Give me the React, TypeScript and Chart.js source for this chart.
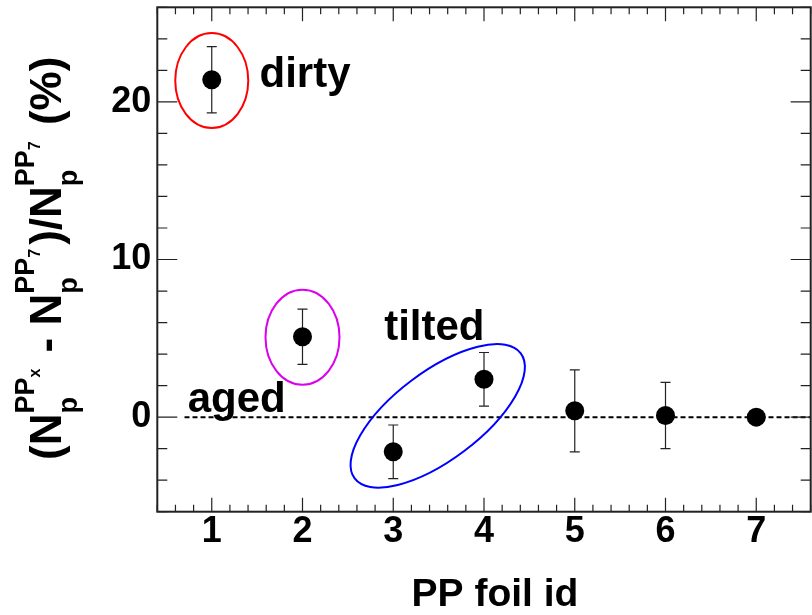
import React, { useEffect, useRef } from 'react';
import { Chart, registerables } from 'chart.js';

Chart.register(...registerables);

// Relative proton yield of each PP foil with respect to foil 7, in percent
const foilIds = [1, 2, 3, 4, 5, 6, 7];
const deviation = [21.4, 5.1, -2.2, 2.4, 0.4, 0.1, 0.0];
const deviationErr = [2.1, 1.75, 1.7, 1.7, 2.6, 2.1, 0];

// Axis tick labels
const xTickValues = [1, 2, 3, 4, 5, 6, 7];
const yTickValues = [0, 10, 20];

// Dotted reference level (zero deviation)
const refLineX = [0.7, 7.6];
const refLineY = [0, 0];

// Circled groups of foils: centre in data units, half-axes in pixels, tilt in degrees
const circledGroups = [
  { x: 1.0, y: 21.35, rx: 36.5, ry: 47.5, tilt: 0, color: '#ff0000' },
  { x: 2.0, y: 5.07, rx: 37, ry: 47.5, tilt: 0, color: '#dd00ee' },
  { x: 3.49, y: 0.08, rx: 104, ry: 44, tilt: -37, color: '#0000ff' },
];

// Group captions, anchored at their left baseline in data units
const groupCaptions = [
  { text: 'dirty', x: 1.526, y: 20.93 },
  { text: 'tilted', x: 2.9, y: 4.91 },
  { text: 'aged', x: 0.735, y: 0.34 },
];

const FONT = '"Liberation Sans", Arial, Helvetica, sans-serif';

const errorBarPlugin = {
  id: 'errorBars',
  beforeDatasetsDraw(chart: any) {
    const { ctx, scales } = chart;
    const xs = scales.x;
    const ys = scales.y;
    ctx.save();
    ctx.strokeStyle = '#222';
    ctx.lineWidth = 1.2;
    foilIds.forEach((id, i) => {
      const e = deviationErr[i];
      if (!e) return;
      const px = xs.getPixelForValue(id);
      const hi = ys.getPixelForValue(deviation[i] + e);
      const lo = ys.getPixelForValue(deviation[i] - e);
      ctx.beginPath();
      ctx.moveTo(px, hi);
      ctx.lineTo(px, lo);
      ctx.moveTo(px - 5, hi);
      ctx.lineTo(px + 5, hi);
      ctx.moveTo(px - 5, lo);
      ctx.lineTo(px + 5, lo);
      ctx.stroke();
    });
    ctx.restore();
  },
};

const annotationPlugin = {
  id: 'groupAnnotations',
  afterDatasetsDraw(chart: any) {
    const { ctx, scales } = chart;
    const xs = scales.x;
    const ys = scales.y;
    ctx.save();
    circledGroups.forEach((g) => {
      ctx.beginPath();
      ctx.ellipse(
        xs.getPixelForValue(g.x),
        ys.getPixelForValue(g.y),
        g.rx,
        g.ry,
        (g.tilt * Math.PI) / 180,
        0,
        Math.PI * 2
      );
      ctx.strokeStyle = g.color;
      ctx.lineWidth = 2;
      ctx.stroke();
    });
    ctx.fillStyle = '#000';
    ctx.font = `bold 42px ${FONT}`;
    ctx.textAlign = 'left';
    ctx.textBaseline = 'alphabetic';
    groupCaptions.forEach((c) => {
      ctx.fillText(c.text, xs.getPixelForValue(c.x), ys.getPixelForValue(c.y));
    });
    ctx.restore();
  },
};

const framePlugin = {
  id: 'frameAndTitles',
  afterDraw(chart: any) {
    const { ctx, scales, chartArea } = chart;
    const xs = scales.x;
    const ys = scales.y;
    const { left, right, top, bottom } = chartArea;
    ctx.save();
    // tick marks on all four sides, pointing inwards
    ctx.strokeStyle = '#222';
    ctx.lineWidth = 1.2;
    ctx.beginPath();
    for (let i = 0; i <= 36; i++) {
      const v = xs.min + i * 0.2;
      const major = Math.abs(v - Math.round(v)) < 1e-6;
      const len = major ? 14 : 7;
      const px = xs.getPixelForValue(v);
      ctx.moveTo(px, bottom);
      ctx.lineTo(px, bottom - len);
      ctx.moveTo(px, top);
      ctx.lineTo(px, top + len);
    }
    for (let v = ys.min; v <= ys.max + 1e-6; v += 2) {
      const major = Math.abs(v % 10) < 1e-6;
      const len = major ? 20 : 10;
      const py = ys.getPixelForValue(v);
      ctx.moveTo(left, py);
      ctx.lineTo(left + len, py);
      ctx.moveTo(right, py);
      ctx.lineTo(right - len, py);
    }
    ctx.stroke();
    // frame
    ctx.strokeStyle = '#222';
    ctx.lineWidth = 2;
    ctx.strokeRect(left, top, right - left, bottom - top);

    ctx.fillStyle = '#000';
    // x-axis title
    ctx.font = `bold 39px ${FONT}`;
    ctx.textAlign = 'center';
    ctx.textBaseline = 'alphabetic';
    ctx.fillText('PP foil id', 495, 606);

    // y-axis title, rotated, with super- and subscripts
    const main = `bold 44px ${FONT}`;
    const supF = `bold 27px ${FONT}`;
    const tinyF = `bold 16px ${FONT}`;
    ctx.translate(60.5, 460);
    ctx.rotate(-Math.PI / 2);
    ctx.textAlign = 'left';
    let u = 0;
    const put = (t: string) => {
      ctx.font = main;
      ctx.fillText(t, u, 0);
      u += ctx.measureText(t).width;
    };
    const stack = (idx: string) => {
      ctx.font = supF;
      const wPP = ctx.measureText('PP').width;
      ctx.fillText('PP', u, -27);
      ctx.font = tinyF;
      const wIdx = ctx.measureText(idx).width;
      ctx.fillText(idx, u + wPP, -20.5);
      ctx.font = supF;
      const wp = ctx.measureText('p').width;
      ctx.fillText('p', u, 16);
      u += Math.max(wPP + wIdx, wp) + 4;
    };
    put('(');
    put('N');
    stack('x');
    put(' - ');
    put('N');
    stack('7');
    put(')/');
    put('N');
    stack('7');
    put(' (%)');
    ctx.restore();
  },
};

const zeroScalePadding = (s: any) => {
  s.paddingTop = 0;
  s.paddingBottom = 0;
  s.paddingLeft = 0;
  s.paddingRight = 0;
};

export default function App() {
  const canvasRef = useRef<HTMLCanvasElement | null>(null);

  useEffect(() => {
    if (!canvasRef.current) return;
    const tickFont = { family: FONT, size: 36, weight: 'bold' as const, lineHeight: 1 };
    const chart = new Chart(canvasRef.current, {
      type: 'scatter',
      data: {
        datasets: [
          {
            type: 'scatter',
            data: foilIds.map((x, i) => ({ x, y: deviation[i] })),
            backgroundColor: '#000',
            borderColor: '#000',
            borderWidth: 0,
            pointRadius: 9.5,
            pointHoverRadius: 9.5,
          },
          {
            type: 'line',
            data: refLineX.map((x, i) => ({ x, y: refLineY[i] })),
            borderColor: '#000',
            borderWidth: 2,
            borderDash: [5, 3],
            pointRadius: 0,
            fill: false,
          },
        ],
      } as any,
      options: {
        animation: false,
        responsive: false,
        devicePixelRatio: 1,
        layout: { autoPadding: false, padding: { left: 0, right: 1.3, top: 7.3, bottom: 0 } },
        plugins: { legend: { display: false }, tooltip: { enabled: false } },
        scales: {
          x: {
            type: 'linear',
            min: 0.4,
            max: 7.6,
            afterBuildTicks: (s: any) => {
              s.ticks = xTickValues.map((v) => ({ value: v }));
            },
            afterFit: (s: any) => {
              s.height = 103.3;
              zeroScalePadding(s);
            },
            grid: { display: false, drawTicks: false, tickLength: 0 },
            border: { display: false },
            ticks: {
              font: tickFont,
              color: '#000',
              padding: 2,
              autoSkip: false,
              maxRotation: 0,
              callback: (v: any) => String(v),
            },
          },
          y: {
            type: 'linear',
            min: -6,
            max: 26,
            afterBuildTicks: (s: any) => {
              s.ticks = yTickValues.map((v) => ({ value: v }));
            },
            afterFit: (s: any) => {
              s.width = 157.3;
              zeroScalePadding(s);
            },
            grid: { display: false, drawTicks: false, tickLength: 0 },
            border: { display: false },
            ticks: {
              font: tickFont,
              color: '#000',
              padding: 6,
              autoSkip: false,
              callback: (v: any) => String(v),
            },
          },
        },
      } as any,
      plugins: [errorBarPlugin, annotationPlugin, framePlugin],
    });
    return () => chart.destroy();
  }, []);

  return (
    <div style={{ position: 'absolute', left: 0, top: 0, width: 812, height: 615, background: '#fff' }}>
      <canvas ref={canvasRef} width={812} height={615} style={{ display: 'block' }} />
    </div>
  );
}
